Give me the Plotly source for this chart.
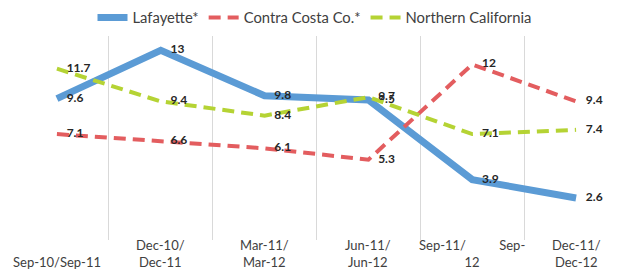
import plotly.graph_objects as go

categories = ["Sep-10/Sep-11", "Dec-10/Dec-11", "Mar-11/Mar-12", "Jun-11/Jun-12", "Sep-11/Sep-12", "Dec-11/Dec-12"]
tick_labels = ["\u00a0<br>Sep-10/Sep-11", "Dec-10/<br>Dec-11", "Mar-11/<br>Mar-12", "Jun-11/<br>Jun-12",
               "Sep-11/\u00a0\u00a0\u00a0\u00a0\u00a0\u00a0\u00a0\u00a0\u00a0\u00a0Sep-<br>12", "Dec-11/<br>Dec-12"]
lafayette = [9.6, 13, 9.8, 9.5, 3.9, 2.6]
contra_costa = [7.1, 6.6, 6.1, 5.3, 12, 9.4]
northern_ca = [11.7, 9.4, 8.4, 9.7, 7.1, 7.4]

FONT = "Lato"
LBL = dict(family=FONT, size=12, color="#262626", weight="bold")
HIDDEN_MARKER = dict(size=14, color="rgba(0,0,0,0)")

def fmt(v):
    return f"{v:g}"

fig = go.Figure()
fig.add_trace(go.Scatter(x=categories, y=lafayette, name="Lafayette*", mode="lines+markers+text",
                         line=dict(color="#5B9BD5", width=7), marker=HIDDEN_MARKER,
                         text=[fmt(v) for v in lafayette],
                         textposition="middle right", textfont=LBL))
fig.add_trace(go.Scatter(x=categories, y=contra_costa, name="Contra Costa Co.*", mode="lines+markers+text",
                         line=dict(color="#E35D5F", width=4, dash="12px,7px"), marker=HIDDEN_MARKER,
                         text=[fmt(v) for v in contra_costa],
                         textposition="middle right", textfont=LBL))
fig.add_trace(go.Scatter(x=categories, y=northern_ca, name="Northern California", mode="lines+markers+text",
                         line=dict(color="#B5D334", width=4, dash="12px,7px"), marker=HIDDEN_MARKER,
                         text=[fmt(v) for v in northern_ca],
                         textposition="middle right", textfont=LBL))

for c, t in zip(categories, tick_labels):
    fig.add_annotation(x=c, xref="x", y=0, yref="paper", yanchor="top", yshift=5,
                       text=t, showarrow=False, align="center",
                       font=dict(family=FONT, size=13, color="#404040"))

fig.update_layout(
    width=629, height=269,
    margin=dict(l=5, r=1, t=36, b=29, autoexpand=False),
    paper_bgcolor="white", plot_bgcolor="white",
    font=dict(family=FONT, color="#404040"),
    showlegend=True,
    legend=dict(orientation="h", x=0.5, xanchor="center", xref="container",
                y=1 - 18 / 269, yanchor="middle", yref="container",
                font=dict(family=FONT, size=14.8, color="#404040"), itemwidth=30,
                tracegroupgap=0),
    xaxis=dict(type="category", range=[-0.5, 5.5], tickson="boundaries", showgrid=True,
               gridcolor="#D9D9D9", gridwidth=1, showticklabels=False, ticks="",
               showline=False, zeroline=False, fixedrange=True),
    yaxis=dict(range=[-0.35, 14], showgrid=False, showticklabels=False, zeroline=False,
               showline=False, ticks=""),
)

fig.write_html("out.html", config={"displayModeBar": False},
               post_script="document.body.style.margin='0';")
